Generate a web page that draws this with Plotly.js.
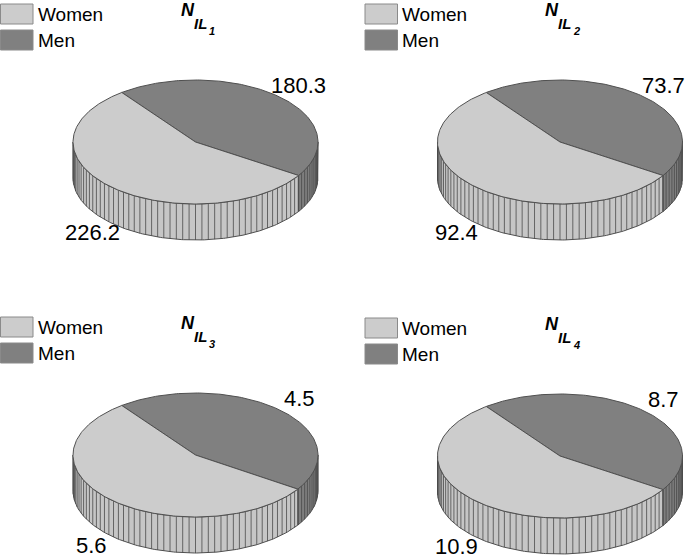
<!DOCTYPE html>
<html>
<head>
<meta charset="utf-8">
<script src="https://cdn.plot.ly/plotly-3.0.1.min.js"></script>
<style>
  html, body { margin: 0; padding: 0; background: #fff; }
  #graphDiv { width: 685px; height: 559px; }
</style>
</head>
<body>
<div id="graphDiv"></div>
<script>
// data
var categories = ['Women', 'Men'];
var panelIndex = ['1', '2', '3', '4'];
var women = [226.2, 92.4, 5.6, 10.9];
var men = [180.3, 73.7, 4.5, 8.7];

// layout of the four 3d pies (pixels)
var centers = [[195.5, 142], [560, 142], [195.5, 455], [560, 456]];
var RX = 122.5, RY = 62, DEPTH = 36;
var START = 127;          // Men slice starts here and runs clockwise
var colors = {Women: '#cccccc', Men: '#808080'};
var sideColors = {Women: '#c6c6c6', Men: '#7e7e7e'};
var edge = '#505050';
var FONT = 'Liberation Sans, Arial, sans-serif';

function pt(c, t, down) {
  var r = t * Math.PI / 180;
  return [c[0] + RX * Math.cos(r), c[1] - RY * Math.sin(r) + (down || 0)];
}

var traces = [];
var shapes = [];
var annotations = [];

function addPoly(xs, ys, fill, lineColor, lw) {
  traces.push({
    x: xs, y: ys, type: 'scatter', mode: 'lines', fill: 'toself',
    fillcolor: fill, line: {color: lineColor, width: lw},
    hoverinfo: 'skip', showlegend: false
  });
}

function initGraph() {
  for (var p = 0; p < 4; p++) {
    var c = centers[p];
    var vals = {Women: women[p], Men: men[p]};
    var total = vals.Women + vals.Men;

    // slices clockwise: Men first, then Women
    var order = ['Men', 'Women'];
    var slices = [];
    var a = START;
    order.forEach(function (name) {
      var sweep = 360 * vals[name] / total;
      slices.push({name: name, hi: a, lo: a - sweep, val: vals[name]});
      a -= sweep;
    });

    // side walls (front half only)
    slices.forEach(function (s) {
      for (var k = -2; k <= 1; k++) {
        var lo = Math.max(s.lo, 180 + 360 * k);
        var hi = Math.min(s.hi, 360 + 360 * k);
        if (hi <= lo) continue;
        var xs = [], ys = [], t, q;
        for (t = lo; t < hi; t += 1) { q = pt(c, t); xs.push(q[0]); ys.push(q[1]); }
        q = pt(c, hi); xs.push(q[0]); ys.push(q[1]);
        for (t = hi; t > lo; t -= 1) { q = pt(c, t, DEPTH); xs.push(q[0]); ys.push(q[1]); }
        q = pt(c, lo, DEPTH); xs.push(q[0]); ys.push(q[1]);
        xs.push(xs[0]); ys.push(ys[0]);
        addPoly(xs, ys, sideColors[s.name], edge, 1);
      }
    });

    // facet lines on the wall
    var fx = [], fy = [];
    for (var t = 183; t < 360; t += 3) {
      var q0 = pt(c, t), q1 = pt(c, t, DEPTH);
      fx.push(q0[0], q1[0], null);
      fy.push(q0[1], q1[1], null);
    }
    traces.push({
      x: fx, y: fy, type: 'scatter', mode: 'lines',
      line: {color: '#4a4a4a', width: 0.8},
      hoverinfo: 'skip', showlegend: false
    });

    // top face
    slices.forEach(function (s) {
      var xs = [c[0]], ys = [c[1]], q;
      for (var t = s.hi; t > s.lo; t -= 1) { q = pt(c, t); xs.push(q[0]); ys.push(q[1]); }
      q = pt(c, s.lo); xs.push(q[0]); ys.push(q[1]);
      xs.push(c[0]); ys.push(c[1]);
      addPoly(xs, ys, colors[s.name], edge, 1);

      // value label outside the slice
      var m = (s.hi + s.lo) / 2;
      var r = m * Math.PI / 180;
      var lx = c[0] + 1.24 * RX * Math.cos(r);
      var ly = c[1] - 1.24 * RY * Math.sin(r) + (Math.sin(r) < 0 ? DEPTH - 2 : 0);
      annotations.push({
        x: lx, y: ly, xref: 'x', yref: 'y', text: String(s.val), showarrow: false,
        xanchor: 'center', yanchor: 'middle', font: {family: FONT, size: 22, color: '#000'}
      });
    });

    // legend
    categories.forEach(function (name, i) {
      var y0 = c[1] - 138 + i * 26;
      shapes.push({
        type: 'rect', xref: 'x', yref: 'y',
        x0: c[0] - 195, x1: c[0] - 162.5, y0: y0, y1: y0 + 20,
        fillcolor: colors[name], line: {color: '#8a8a8a', width: 1}
      });
      annotations.push({
        x: c[0] - 160, y: y0 + 10, xref: 'x', yref: 'y', text: name, showarrow: false,
        xanchor: 'left', yanchor: 'middle', font: {family: FONT, size: 19, color: '#000'}
      });
    });

    // title N_{IL_k}
    annotations.push({
      x: c[0] - 17, y: c[1] - 132, xref: 'x', yref: 'y', text: '<b><i>N</i></b>',
      showarrow: false, xanchor: 'left', yanchor: 'middle',
      font: {family: FONT, size: 18, color: '#000'}
    });
    annotations.push({
      x: c[0] - 4, y: c[1] - 119, xref: 'x', yref: 'y', text: '<b><i>IL</i></b>',
      showarrow: false, xanchor: 'left', yanchor: 'middle',
      font: {family: FONT, size: 15, color: '#000'}
    });
    annotations.push({
      x: c[0] + 11, y: c[1] - 111, xref: 'x', yref: 'y', text: '<b><i>' + panelIndex[p] + '</i></b>',
      showarrow: false, xanchor: 'left', yanchor: 'middle',
      font: {family: FONT, size: 11, color: '#000'}
    });
  }

  var layout = {
    width: 685,
    height: 559,
    margin: {l: 0, r: 0, t: 0, b: 0, pad: 0},
    paper_bgcolor: '#ffffff',
    plot_bgcolor: '#ffffff',
    showlegend: false,
    xaxis: {range: [0, 685], visible: false, fixedrange: true},
    yaxis: {range: [559, 0], visible: false, fixedrange: true},
    shapes: shapes,
    annotations: annotations
  };

  Plotly.newPlot('graphDiv', traces, layout, {staticPlot: true, displayModeBar: false});
}
initGraph();
</script>
</body>
</html>
